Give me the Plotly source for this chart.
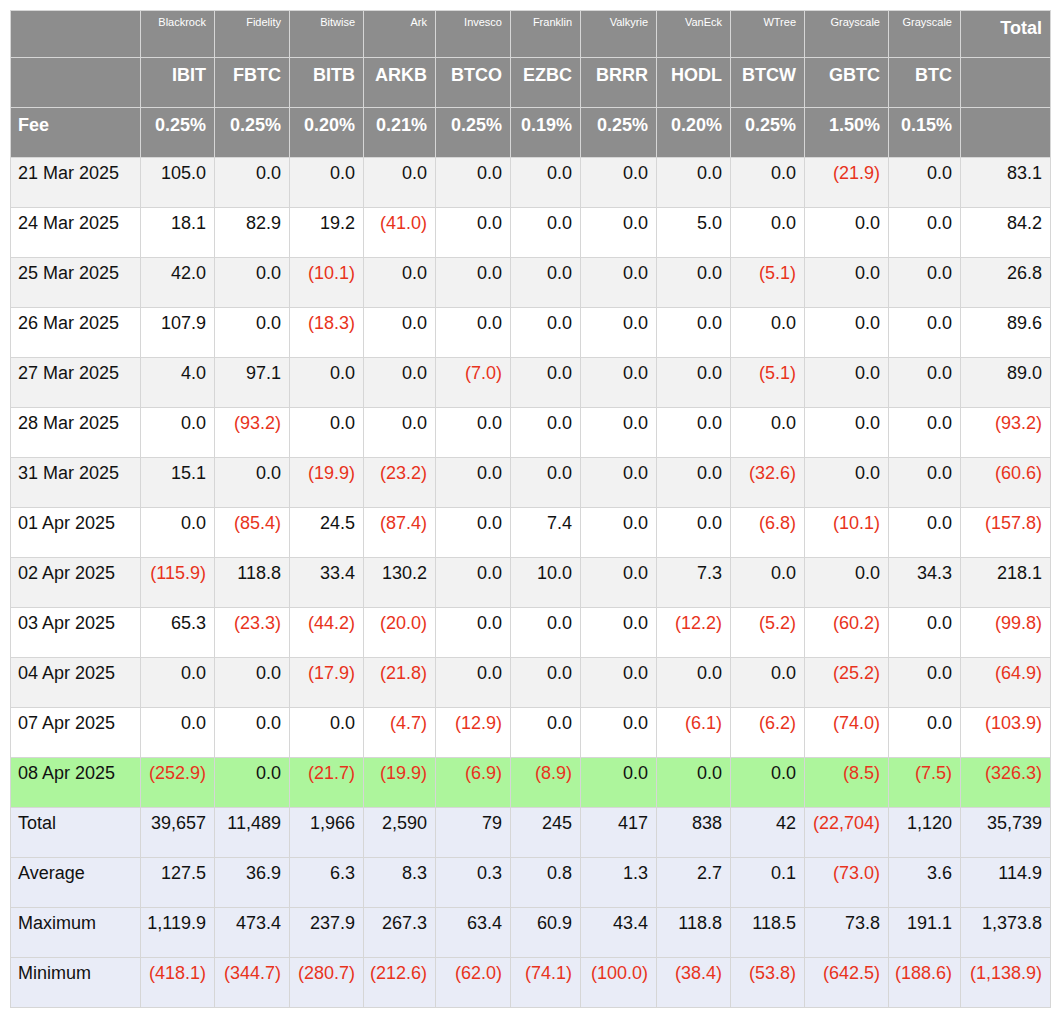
import plotly.graph_objects as go

issuers = ["Blackrock", "Fidelity", "Bitwise", "Ark", "Invesco", "Franklin",
           "Valkyrie", "VanEck", "WTree", "Grayscale", "Grayscale"]
tickers = ["IBIT", "FBTC", "BITB", "ARKB", "BTCO", "EZBC", "BRRR", "HODL", "BTCW", "GBTC", "BTC"]
fees = ["0.25%", "0.25%", "0.20%", "0.21%", "0.25%", "0.19%", "0.25%", "0.20%", "0.25%", "1.50%", "0.15%"]

dates = ["21 Mar 2025", "24 Mar 2025", "25 Mar 2025", "26 Mar 2025", "27 Mar 2025",
         "28 Mar 2025", "31 Mar 2025", "01 Apr 2025", "02 Apr 2025", "03 Apr 2025",
         "04 Apr 2025", "07 Apr 2025", "08 Apr 2025"]

# flows per day, one list per row: 11 funds then total
flows = [
    [105.0, 0.0, 0.0, 0.0, 0.0, 0.0, 0.0, 0.0, 0.0, -21.9, 0.0, 83.1],
    [18.1, 82.9, 19.2, -41.0, 0.0, 0.0, 0.0, 5.0, 0.0, 0.0, 0.0, 84.2],
    [42.0, 0.0, -10.1, 0.0, 0.0, 0.0, 0.0, 0.0, -5.1, 0.0, 0.0, 26.8],
    [107.9, 0.0, -18.3, 0.0, 0.0, 0.0, 0.0, 0.0, 0.0, 0.0, 0.0, 89.6],
    [4.0, 97.1, 0.0, 0.0, -7.0, 0.0, 0.0, 0.0, -5.1, 0.0, 0.0, 89.0],
    [0.0, -93.2, 0.0, 0.0, 0.0, 0.0, 0.0, 0.0, 0.0, 0.0, 0.0, -93.2],
    [15.1, 0.0, -19.9, -23.2, 0.0, 0.0, 0.0, 0.0, -32.6, 0.0, 0.0, -60.6],
    [0.0, -85.4, 24.5, -87.4, 0.0, 7.4, 0.0, 0.0, -6.8, -10.1, 0.0, -157.8],
    [-115.9, 118.8, 33.4, 130.2, 0.0, 10.0, 0.0, 7.3, 0.0, 0.0, 34.3, 218.1],
    [65.3, -23.3, -44.2, -20.0, 0.0, 0.0, 0.0, -12.2, -5.2, -60.2, 0.0, -99.8],
    [0.0, 0.0, -17.9, -21.8, 0.0, 0.0, 0.0, 0.0, 0.0, -25.2, 0.0, -64.9],
    [0.0, 0.0, 0.0, -4.7, -12.9, 0.0, 0.0, -6.1, -6.2, -74.0, 0.0, -103.9],
    [-252.9, 0.0, -21.7, -19.9, -6.9, -8.9, 0.0, 0.0, 0.0, -8.5, -7.5, -326.3],
]

stat_names = ["Total", "Average", "Maximum", "Minimum"]
stat_total = [39657, 11489, 1966, 2590, 79, 245, 417, 838, 42, -22704, 1120, 35739]
stat_avg = [127.5, 36.9, 6.3, 8.3, 0.3, 0.8, 1.3, 2.7, 0.1, -73.0, 3.6, 114.9]
stat_max = [1119.9, 473.4, 237.9, 267.3, 63.4, 60.9, 43.4, 118.8, 118.5, 73.8, 191.1, 1373.8]
stat_min = [-418.1, -344.7, -280.7, -212.6, -62.0, -74.1, -100.0, -38.4, -53.8, -642.5, -188.6, -1138.9]

RED = "#e8331c"
HEAD = "#8d8d8d"


def fmt(v, dec=1):
    s = f"{abs(v):,.{dec}f}"
    return f"({s})" if v < 0 else s


# header row: issuer names (small) + Total
head_vals = [""] + issuers + ["<b>Total</b>"]
head_sizes = [11] * 12 + [18]

# body rows: [label, 12 values], with fill / font colour
rows, fills, colors = [], [], []

rows.append([""] + [f"<b>{t}</b>" for t in tickers] + [""])
fills.append(HEAD)
colors.append(["white"] * 13)

rows.append(["<b>Fee</b>"] + [f"<b>{f}</b>" for f in fees] + [""])
fills.append(HEAD)
colors.append(["white"] * 13)

for i, (d, vals) in enumerate(zip(dates, flows)):
    rows.append([d] + [fmt(v) for v in vals])
    if i == len(dates) - 1:
        fills.append("#adf59c")
    else:
        fills.append("white" if i % 2 else "#f2f2f2")
    colors.append(["#111111"] + [RED if v < 0 else "#111111" for v in vals])

for name, vals, dec in zip(stat_names, [stat_total, stat_avg, stat_max, stat_min], [0, 1, 1, 1]):
    rows.append([name] + [fmt(v, dec) for v in vals])
    fills.append("#e9ecf7")
    colors.append(["#111111"] + [RED if v < 0 else "#111111" for v in vals])

ncol = 13
values = [[r[c] for r in rows] for c in range(ncol)]
fill_cols = [fills for _ in range(ncol)]
color_cols = [[colors[r][c] for r in range(len(rows))] for c in range(ncol)]

fig = go.Figure(go.Table(
    columnwidth=[130, 74, 75, 74, 72, 75, 70, 76, 74, 74, 84, 72, 90],
    header=dict(values=head_vals, height=47, align="right",
                line=dict(color="#d6d6d6", width=1),
                fill=dict(color=HEAD),
                font=dict(family="Liberation Sans, Arial", color="white", size=head_sizes)),
    cells=dict(values=values, height=50, align=["left"] + ["right"] * 12,
               fill=dict(color=fill_cols),
               line=dict(color="#d6d6d6", width=1),
               font=dict(family="Liberation Sans, Arial", color=color_cols, size=18)),
))
fig.update_layout(width=1062, height=1028, margin=dict(l=2, r=20, t=2, b=0),
                  paper_bgcolor="white")
fig.write_html("out.html")
